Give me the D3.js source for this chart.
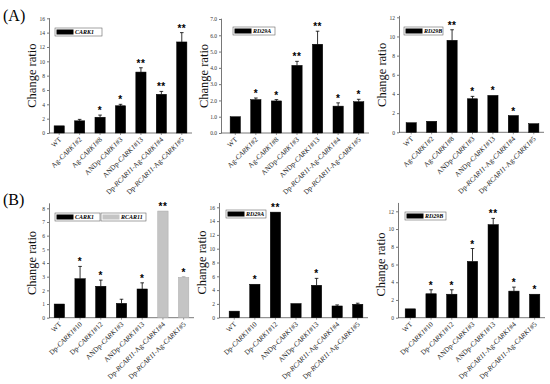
<!DOCTYPE html>
<html>
<head>
<meta charset="utf-8">
<script src="https://cdnjs.cloudflare.com/ajax/libs/d3/7.8.5/d3.min.js"></script>
<style>
  body { margin: 0; background: #fff; }
  svg { display: block; font-family: "Liberation Serif", "DejaVu Serif", serif; }
</style>
</head>
<body>
<div id="chart"></div>
<script>
"use strict";

// === DATA ===
const labelsA = ["WT", "Ag-CARK1#2", "Ag-CARK1#8", "ANDp-CARK1#3", "ANDp-CARK1#13",
  "Dp-RCAR11-Ag-CARK1#4", "Dp-RCAR11-Ag-CARK1#5"];
const labelsB = ["WT", "Dp-CARK1#10", "Dp-CARK1#12", "ANDp-CARK1#3", "ANDp-CARK1#13",
  "Dp-RCAR11-Ag-CARK1#4", "Dp-RCAR11-Ag-CARK1#5"];

// (A) CARK1
const aCarkVals = [1.0, 1.7, 2.2, 3.8, 8.5, 5.4, 12.7];
const aCarkErr = [0, 0.2, 0.3, 0.2, 0.6, 0.4, 1.3];
const aCarkStars = ["", "", "*", "*", "**", "**", "**"];
// (A) RD29A
const aRd29aVals = [1.0, 2.05, 1.97, 4.15, 5.45, 1.65, 1.92];
const aRd29aErr = [0, 0.1, 0.08, 0.25, 0.8, 0.2, 0.15];
const aRd29aStars = ["", "*", "*", "**", "**", "*", "*"];
// (A) RD29B
const aRd29bVals = [1.0, 1.15, 9.6, 3.5, 3.85, 1.75, 0.9];
const aRd29bErr = [0, 0, 1.1, 0.25, 0, 0, 0];
const aRd29bStars = ["", "", "**", "*", "*", "*", ""];

// (B) CARK1 / RCAR11 (last two bars are RCAR11)
const bCarkVals = [1.0, 2.85, 2.3, 1.05, 2.1, 7.8, 2.95];
const bCarkErr = [0, 0.9, 0.45, 0.3, 0.45, 0, 0.05];
const bCarkStars = ["", "*", "*", "", "*", "**", "*"];
const bCarkSeries = ["CARK1", "CARK1", "CARK1", "CARK1", "CARK1", "RCAR11", "RCAR11"];
// (B) RD29A
const bRd29aVals = [0.95, 4.85, 15.3, 2.05, 4.7, 1.7, 1.95];
const bRd29aErr = [0, 0, 0, 0, 1.0, 0.15, 0.15];
const bRd29aStars = ["", "*", "**", "", "*", "", ""];
// (B) RD29B
const bRd29bVals = [1.0, 2.7, 2.65, 6.35, 10.5, 3.0, 2.65];
const bRd29bErr = [0, 0.45, 0.5, 1.45, 0.7, 0.45, 0];
const bRd29bStars = ["", "*", "*", "*", "**", "*", "*"];

// y tick values
const ticksA1 = [0, 2, 4, 6, 8, 10, 12, 14, 16];
const ticksA2 = [0, 1, 2, 3, 4, 5, 6, 7];
const ticksA3 = [0, 2, 4, 6, 8, 10, 12];
const ticksB1 = [0, 1, 2, 3, 4, 5, 6, 7, 8];
const ticksB2 = [0, 2, 4, 6, 8, 10, 12, 14, 16];
const ticksB3 = [0, 2, 4, 6, 8, 10, 12];

const W = 550, H = 384;
const svg = d3.select("#chart").append("svg").attr("width", W).attr("height", H);

const colors = { CARK1: "#000", RCAR11: "#c4c4c4" };

// panel layout: axisX, band range, y0 (value 0), yTop (top tick), domain max
const panels = [
  { labels: labelsA, vals: aCarkVals, err: aCarkErr, stars: aCarkStars, ticks: ticksA1,
    axisX: 49, bx: [49, 192], y0: 133, yTop: 18.3, dMax: 16.1,
    legend: [{ name: "CARK1", x: 55, y: 28, w: 47 }] },
  { labels: labelsA, vals: aRd29aVals, err: aRd29aErr, stars: aRd29aStars, ticks: ticksA2,
    axisX: 221, bx: [225, 369], y0: 133, yTop: 19, dMax: 7.05,
    legend: [{ name: "RD29A", x: 233, y: 27, w: 42 }] },
  { labels: labelsA, vals: aRd29bVals, err: aRd29bErr, stars: aRd29bStars, ticks: ticksA3,
    axisX: 399, bx: [401, 544], y0: 132.3, yTop: 17.3, dMax: 12.2,
    legend: [{ name: "RD29B", x: 404, y: 27, w: 39 }] },
  { labels: labelsB, vals: bCarkVals, err: bCarkErr, stars: bCarkStars, ticks: ticksB1,
    series: bCarkSeries,
    axisX: 49, bx: [49, 194], y0: 317.7, yTop: 208.3, dMax: 8.4,
    legend: [{ name: "CARK1", x: 55, y: 213, w: 45 }, { name: "RCAR11", x: 101, y: 213, w: 45 }] },
  { labels: labelsB, vals: bRd29aVals, err: bRd29aErr, stars: bRd29aStars, ticks: ticksB2,
    axisX: 219, bx: [224, 368], y0: 317.7, yTop: 207.3, dMax: 16.7,
    legend: [{ name: "RD29A", x: 226, y: 210, w: 40 }] },
  { labels: labelsB, vals: bRd29bVals, err: bRd29bErr, stars: bRd29bStars, ticks: ticksB3,
    axisX: 398, bx: [400, 545], y0: 317.7, yTop: 211.3, dMax: 13,
    legend: [{ name: "RD29B", x: 405, y: 212, w: 41 }] }
];

panels.forEach(p => {
  const g = svg.append("g");
  const topTick = p.ticks[p.ticks.length - 1];
  const pxPer = (p.y0 - p.yTop) / topTick;

  const x = d3.scaleBand()
    .domain(p.labels)
    .range(p.bx)
    .paddingInner(0.5)
    .paddingOuter(0.25);

  const y = d3.scaleLinear()
    .domain([0, p.dMax])
    .range([p.y0, p.y0 - p.dMax * pxPer]);

  // y axis
  const yAxis = d3.axisLeft(y).tickValues(p.ticks).tickSize(2).tickSizeOuter(0).tickPadding(2);
  const ya = g.append("g")
    .attr("transform", `translate(${p.axisX},0)`)
    .call(yAxis);
  ya.selectAll("text").attr("font-size", 5.5).attr("font-family", "Liberation Serif").attr("fill", "#333");
  ya.selectAll("line, path").attr("stroke", "#555").attr("stroke-width", 0.8);

  // x axis
  const xa = g.append("g")
    .attr("transform", `translate(0,${p.y0})`);
  xa.append("line")
    .attr("x1", p.axisX).attr("x2", p.bx[1])
    .attr("stroke", "#555").attr("stroke-width", 0.8);
  xa.selectAll("line.tk")
    .data(p.labels)
    .join("line")
    .attr("class", "tk")
    .attr("x1", d => x(d) + x.bandwidth() / 2)
    .attr("x2", d => x(d) + x.bandwidth() / 2)
    .attr("y1", 0).attr("y2", 2)
    .attr("stroke", "#555").attr("stroke-width", 0.6);

  // x labels, rotated
  p.labels.forEach(lbl => {
    const cx = x(lbl) + x.bandwidth() / 2;
    const t = g.append("text")
      .attr("transform", `translate(${cx + 2.5},${p.y0 + 7}) rotate(-45)`)
      .attr("text-anchor", "end")
      .attr("font-size", 7.1)
      .attr("fill", "#222");
    const parts = lbl.split(/(CARK1|RCAR11)/);
    parts.forEach(s => {
      if (!s) return;
      t.append("tspan")
        .attr("font-style", (s === "CARK1" || s === "RCAR11") ? "italic" : "normal")
        .text(s);
    });
  });

  // bars
  g.selectAll("rect.bar")
    .data(p.vals)
    .join("rect")
    .attr("class", "bar")
    .attr("x", (d, i) => x(p.labels[i]))
    .attr("y", d => y(d))
    .attr("width", x.bandwidth())
    .attr("height", d => p.y0 - y(d))
    .attr("fill", (d, i) => colors[p.series ? p.series[i] : "CARK1"])
    .attr("stroke", (d, i) => p.series && p.series[i] === "RCAR11" ? "#aaa" : "#000")
    .attr("stroke-width", 0.5);

  // error bars + significance stars
  p.vals.forEach((v, i) => {
    const e = p.err[i];
    const cx = x(p.labels[i]) + x.bandwidth() / 2;
    if (e > 0) {
      const c = p.series && p.series[i] === "RCAR11" ? "#aaa" : "#000";
      g.append("line")
        .attr("x1", cx).attr("x2", cx)
        .attr("y1", y(v)).attr("y2", y(v + e))
        .attr("stroke", c).attr("stroke-width", 0.8);
      g.append("line")
        .attr("x1", cx - 1.8).attr("x2", cx + 1.8)
        .attr("y1", y(v + e)).attr("y2", y(v + e))
        .attr("stroke", c).attr("stroke-width", 0.8);
    }
    if (p.stars[i]) {
      g.append("text")
        .attr("x", cx)
        .attr("y", y(v + e) - 1)
        .attr("text-anchor", "middle")
        .attr("font-size", 10)
        .attr("font-weight", "bold")
        .attr("font-family", "Liberation Sans")
        .attr("letter-spacing", 0.5)
        .text(p.stars[i]);
    }
  });

  // axis title
  g.append("text")
    .attr("transform", `translate(${p.axisX - 13},${(p.y0 + p.yTop) / 2}) rotate(-90)`)
    .attr("text-anchor", "middle")
    .attr("font-size", 12.5)
    .attr("fill", "#111")
    .text("Change ratio");

  // legend
  p.legend.forEach(l => {
    g.append("rect")
      .attr("x", l.x).attr("y", l.y)
      .attr("width", l.w).attr("height", 8)
      .attr("fill", "#fff").attr("stroke", "#666").attr("stroke-width", 0.6);
    g.append("rect")
      .attr("x", l.x + 1.5).attr("y", l.y + 1.5)
      .attr("width", 17).attr("height", 5)
      .attr("fill", colors[l.name] || "#000");
    g.append("text")
      .attr("x", l.x + 20).attr("y", l.y + 6)
      .attr("font-size", 6)
      .attr("font-style", "italic")
      .attr("font-weight", "bold")
      .attr("fill", "#000")
      .text(l.name);
  });
});

// panel letters
svg.append("text").attr("x", 3).attr("y", 21).attr("font-size", 16).text("(A)");
svg.append("text").attr("x", 3).attr("y", 205).attr("font-size", 16).text("(B)");
</script>
</body>
</html>
